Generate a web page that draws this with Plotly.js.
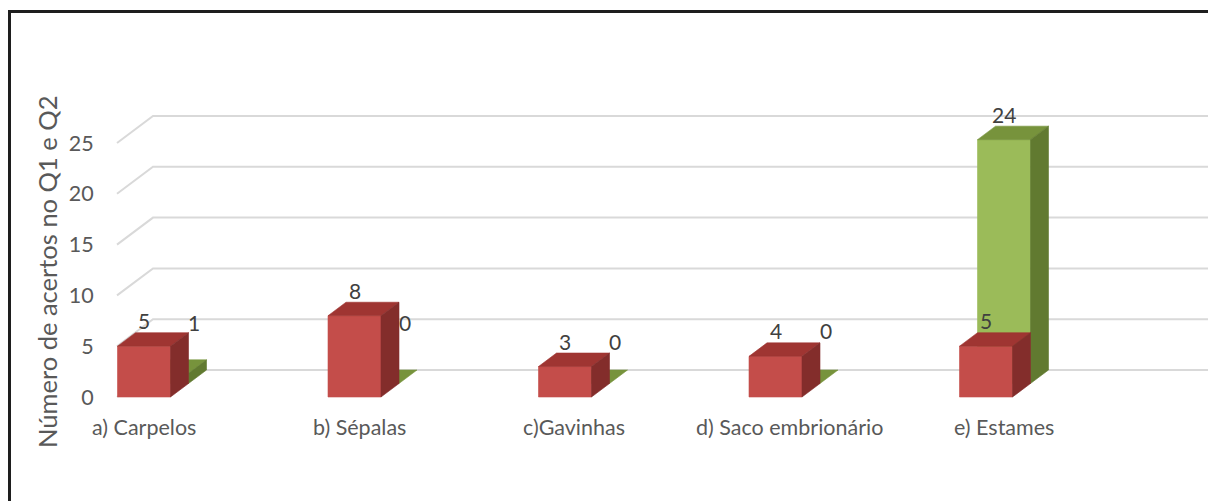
<!DOCTYPE html>
<html>
<head>
<meta charset="utf-8">
<script src="https://cdn.plot.ly/plotly-3.0.1.min.js"></script>
<style>
  html, body { margin: 0; padding: 0; background: #fff; }
  #wrap { position: relative; width: 1208px; height: 501px; overflow: hidden; }
  #chart { width: 1208px; height: 501px; }
  #frame { position: absolute; left: 8px; top: 10px; width: 1400px; height: 700px;
           border-top: 3px solid #1e1e1e; border-left: 3px solid #1e1e1e; pointer-events: none; }
</style>
</head>
<body>
<div id="wrap">
  <div id="chart"></div>
  <div id="frame"></div>
</div>
<script>
// ---- data ----
const categories = ['a) Carpelos', 'b) Sépalas', 'c)Gavinhas', 'd) Saco embrionário', 'e) Estames'];
const q1Values = [5, 8, 3, 4, 5];     // front (red) series
const q2Values = [1, 0, 0, 0, 24];    // back (green) series
const yTickValues = [0, 5, 10, 15, 20, 25];
const yTitle = 'Número de acertos no Q1 e Q2';

// ---- geometry / style ----
const W = 1208, H = 501;
const ML = 110, MR = 0, MT = 60, MB = 101;
const PX = 210.5;      // px per category step
const PY = 10.16;      // px per value unit
const X0PX = 144;      // page x of first category centre
const BASE = 397;      // page y of front baseline
const GRID_LEFT_PX = 117;
const HW = 26.5 / PX;  // half bar width (category units)
const DX = 18 / PX;    // depth per series slot (x)
const DY = 13.5 / PY;  // depth per series slot (y)
const FONT = 'Lato, "Open Sans", sans-serif';

const xRange = [(ML - X0PX) / PX, (W - MR - X0PX) / PX];
const yRange = [-(H - MB - BASE) / PY, (BASE - MT) / PY];
const gridLeft = (GRID_LEFT_PX - X0PX) / PX;

const series = [
  { name: 'Q1', values: q1Values, slot: 0, front: '#C44D4A', top: '#9F3532', side: '#832D2B' },
  { name: 'Q2', values: q2Values, slot: 1, front: '#9BBB59', top: '#77933C', side: '#617A30' }
];

function faces(s) {
  const fx = [], fy = [], tx = [], ty = [], sx = [], sy = [];
  const z0 = s.slot, z1 = s.slot + 1;
  s.values.forEach((v, i) => {
    const l0 = i - HW + z0 * DX, r0 = i + HW + z0 * DX;
    const l1 = i - HW + z1 * DX, r1 = i + HW + z1 * DX;
    const b0 = z0 * DY, b1 = z1 * DY;
    if (v > 0) {
      fx.push(l0, r0, r0, l0, l0, null); fy.push(b0, b0, b0 + v, b0 + v, b0, null);
      sx.push(r0, r1, r1, r0, r0, null); sy.push(b0, b1, b1 + v, b0 + v, b0, null);
    }
    tx.push(l0, r0, r1, l1, l0, null); ty.push(b0 + v, b0 + v, b1 + v, b1 + v, b0 + v, null);
  });
  const mk = (x, y, c) => ({
    x, y, type: 'scatter', mode: 'lines', fill: 'toself', fillcolor: c,
    line: { color: c, width: 0.6 }, hoverinfo: 'skip', showlegend: false, name: s.name
  });
  return [mk(fx, fy, s.front), mk(tx, ty, s.top), mk(sx, sy, s.side)];
}

// gridlines: left wall diagonal + back wall horizontal
const gx = [], gy = [];
yTickValues.forEach(t => {
  gx.push(gridLeft, gridLeft + 2 * DX, xRange[1], null);
  gy.push(t, t + 2 * DY, t + 2 * DY, null);
});
const gridTrace = {
  x: gx, y: gy, type: 'scatter', mode: 'lines',
  line: { color: '#d9d9d9', width: 2 }, hoverinfo: 'skip', showlegend: false
};

const traces = [gridTrace, ...faces(series[1]), ...faces(series[0])];

// ---- annotations ----
const annotations = [];
const labelFont = { family: FONT, size: 21, color: '#404040' };
const LABEL_CAP = 6.2; // highest level for a shifted (hidden-bar) label
categories.forEach((c, i) => {
  annotations.push({
    x: i + (4.5 * i) / PX, y: 0, xref: 'x', yref: 'y', text: c, showarrow: false,
    xanchor: 'center', yanchor: 'middle', yshift: -30,
    font: { family: FONT, size: 21.5, color: '#595959' }
  });
  const r = q1Values[i], g = q2Values[i];
  const rLevel = r + DY;
  annotations.push({
    x: i, y: rLevel, xref: 'x', yref: 'y', text: String(r), showarrow: false,
    xanchor: 'center', yanchor: 'middle', yshift: 12, font: labelFont
  });
  let gx2, gLevel;
  if (g < r) { gx2 = i + 50 / PX; gLevel = Math.min(rLevel, LABEL_CAP); }
  else { gx2 = i + DX; gLevel = g + 2 * DY; }
  annotations.push({
    x: gx2, y: gLevel, xref: 'x', yref: 'y', text: String(g), showarrow: false,
    xanchor: 'center', yanchor: 'middle', yshift: 12, font: labelFont
  });
});
const plotW = W - ML - MR, plotH = H - MT - MB;
annotations.push({
  x: (47 - ML) / plotW, y: (H - MB - 272) / plotH, xref: 'paper', yref: 'paper',
  text: yTitle, textangle: -90, showarrow: false, xanchor: 'center', yanchor: 'middle',
  font: { family: FONT, size: 25.5, color: '#595959' }
});

const layout = {
  width: W, height: H,
  margin: { l: ML, r: MR, t: MT, b: MB, pad: 0 },
  paper_bgcolor: '#ffffff', plot_bgcolor: '#ffffff',
  showlegend: false,
  xaxis: { range: xRange, showgrid: false, zeroline: false, showline: false,
           showticklabels: false, ticks: '', fixedrange: true },
  yaxis: { range: yRange, tickvals: yTickValues, ticktext: yTickValues.map(String),
           showgrid: false, zeroline: false, showline: false,
           ticks: 'outside', ticklen: 11, tickcolor: 'rgba(0,0,0,0)',
           tickfont: { family: FONT, size: 21.5, color: '#595959' },
           fixedrange: true },
  annotations
};

Plotly.newPlot('chart', traces, layout, { displayModeBar: false, staticPlot: true });
</script>
</body>
</html>
